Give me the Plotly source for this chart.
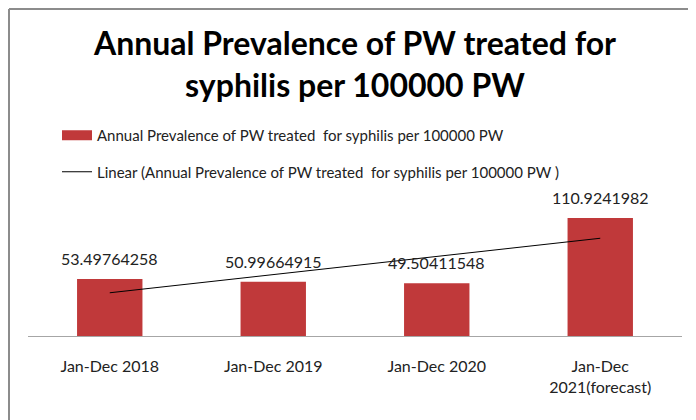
import numpy as np
import plotly.graph_objects as go

categories = ["Jan-Dec 2018", "Jan-Dec 2019", "Jan-Dec 2020", "Jan-Dec<br>2021(forecast)"]
values = [53.49764258, 50.99664915, 49.50411548, 110.9241982]
value_labels = ["53.49764258", "50.99664915", "49.50411548", "110.9241982"]
series_name = "Annual Prevalence of PW treated  for syphilis per 100000 PW"
trend_name = "Linear (Annual Prevalence of PW treated  for syphilis per 100000 PW )"
title_text = "Annual Prevalence of PW treated for<br>syphilis per 100000 PW"

BAR_COLOR = "#c0393a"

# linear trendline from data
xi = np.arange(1, len(values) + 1)
slope, intercept = np.polyfit(xi, values, 1)
trend = list(slope * xi + intercept)

FONT = "Lato, Carlito, Calibri, sans-serif"

OFF = 8  # page body margin
W, H = 696 - OFF, 420 - OFF

# desired screen coordinates
S_left, S_right, S_base, S_top = 28, 682, 336, 187
ml = S_left - OFF
mr = 696 - S_right
mt = S_top - OFF
mb = 420 - S_base
pw, ph = W - ml - mr, H - mt - mb


def px(sx):
    return (sx - OFF - ml) / pw


def py(sy):
    return (H - mb - (sy - OFF)) / ph


fig = go.Figure()
fig.add_trace(go.Bar(
    x=categories, y=values, name=series_name,
    marker=dict(color=BAR_COLOR, line=dict(width=0)),
    width=0.40, showlegend=False,
))
# legend entry for the bars drawn as a wide rectangle swatch (no data points drawn)
fig.add_trace(go.Scatter(
    x=[categories[0]], y=[None], name=series_name, mode="lines",
    line=dict(color=BAR_COLOR, width=10), legendgroup="a", hoverinfo="skip",
))
fig.add_trace(go.Scatter(
    x=categories, y=trend, name=trend_name, mode="lines",
    line=dict(color="#000000", width=1), legendgroup="b",
))

for c, v, t in zip(categories, values, value_labels):
    fig.add_annotation(x=c, y=v, text=t, showarrow=False, yanchor="bottom",
                       yshift=9, font=dict(family=FONT, size=16, color="#222222"))

# frame border (left and top)
fig.add_shape(type="line", xref="paper", yref="paper", x0=px(9), x1=px(700), y0=py(9), y1=py(9),
              line=dict(color="#8c8c8c", width=2))
fig.add_shape(type="line", xref="paper", yref="paper", x0=px(9), x1=px(9), y0=py(9), y1=py(430),
              line=dict(color="#8c8c8c", width=2))

fig.update_layout(
    width=W, height=H,
    margin=dict(l=ml, r=mr, t=mt, b=mb),
    paper_bgcolor="white", plot_bgcolor="white",
    font=dict(family=FONT, color="#222222"),
    title=dict(text=title_text, x=px(355), xanchor="center", xref="paper",
               y=1 - (55 - OFF) / H, yanchor="middle",
               font=dict(family=FONT, size=32, color="#000000", weight="bold")),
    showlegend=True,
    legend=dict(x=px(57), xanchor="left", y=py(119), yanchor="top",
                font=dict(family=FONT, size=15, color="#222222"),
                tracegroupgap=14, bgcolor="rgba(0,0,0,0)", itemwidth=30),
    bargap=0.6,
    xaxis=dict(showline=True, linecolor="#a6a6a6", linewidth=1, showgrid=False,
               ticks="", tickfont=dict(family=FONT, size=16, color="#222222"),
               ticklabelstandoff=16, fixedrange=True),
    yaxis=dict(range=[0, 140], visible=False, showgrid=False, zeroline=False),
)

fig.write_html("out.html")
